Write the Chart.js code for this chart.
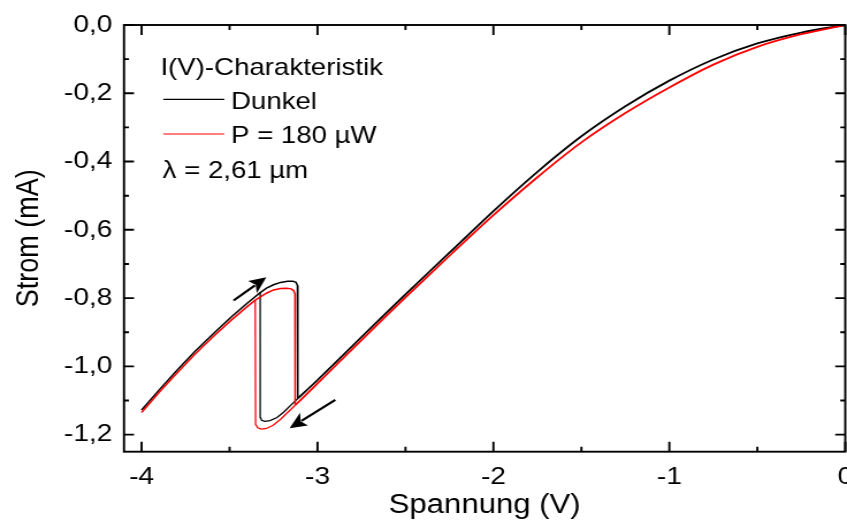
<!DOCTYPE html>
<html>
<head>
<meta charset="utf-8">
<script src="https://cdn.jsdelivr.net/npm/chart.js@4.4.1/dist/chart.umd.min.js"></script>
<style>
  html, body { margin: 0; padding: 0; background: #fff; overflow: hidden; }
</style>
</head>
<body>
<canvas id="plot" width="736" height="525" style="display:block;width:847px;height:525px"></canvas>
<script>
// I(V) sweep, voltage in V, current in mA.
// "Dunkel" = dark measurement, "Licht" = illuminated with P = 180 µW.

// forward sweep from -4 V over the upper loop edge, then the jump down
const dunkelAufV = [-4.0, -3.9, -3.8, -3.7, -3.6, -3.5, -3.4, -3.326, -3.29, -3.25, -3.21, -3.17, -3.14, -3.122, -3.114, -3.112];
const dunkelAufI = [-1.128, -1.069, -1.012, -0.958, -0.908, -0.860, -0.815, -0.784, -0.771, -0.761, -0.754, -0.751, -0.751, -0.754, -0.763, -1.094];
// common branch from the switching point to 0 V
const dunkelHauptV = [-3.112, -3.0, -2.75, -2.5, -2.25, -2.0, -1.75, -1.5, -1.25, -1.0, -0.75, -0.5, -0.25, 0];
const dunkelHauptI = [-1.094, -1.040, -0.914, -0.789, -0.667, -0.545, -0.430, -0.326, -0.238, -0.163, -0.101, -0.054, -0.022, 0];
// backward sweep: lower loop edge and jump back up
const dunkelRueckV = [-3.112, -3.15, -3.19, -3.23, -3.27, -3.30, -3.318, -3.324, -3.326];
const dunkelRueckI = [-1.094, -1.113, -1.133, -1.150, -1.159, -1.161, -1.158, -1.150, -0.784];

const lichtAufV = [-4.0, -3.9, -3.8, -3.7, -3.6, -3.5, -3.4, -3.354, -3.32, -3.288, -3.25, -3.21, -3.174, -3.15, -3.136, -3.128, -3.127];
const lichtAufI = [-1.135, -1.076, -1.020, -0.966, -0.916, -0.869, -0.825, -0.806, -0.795, -0.785, -0.776, -0.772, -0.771, -0.773, -0.778, -0.788, -1.114];
const lichtHauptV = [-3.127, -3.0, -2.75, -2.5, -2.25, -2.0, -1.75, -1.5, -1.25, -1.0, -0.75, -0.5, -0.25, 0];
const lichtHauptI = [-1.114, -1.050, -0.923, -0.798, -0.676, -0.557, -0.446, -0.344, -0.258, -0.183, -0.116, -0.064, -0.027, 0];
const lichtRueckV = [-3.127, -3.17, -3.21, -3.25, -3.29, -3.32, -3.34, -3.352, -3.354];
const lichtRueckI = [-1.114, -1.135, -1.155, -1.172, -1.182, -1.184, -1.180, -1.170, -0.806];

// axis ticks
const xTickValues = [-4, -3, -2, -1, 0];
const xMinorValues = [-3.5, -2.5, -1.5, -0.5];
const yTickValues = [0, -0.2, -0.4, -0.6, -0.8, -1.0, -1.2];
const yMinorValues = [-0.1, -0.3, -0.5, -0.7, -0.9, -1.1];

// sweep direction arrows (tail -> tip, in V / mA)
const sweepArrows = [
  { from: [-3.477, -0.807], to: [-3.291, -0.739] },
  { from: [-2.899, -1.098], to: [-3.159, -1.181] }
];

const legendTitle = 'I(V)-Charakteristik';
const seriesNames = ['Dunkel', 'P = 180 µW'];
const wavelengthNote = 'λ = 2,61 µm';

// the canvas is drawn narrower and widened by CSS
const STRETCH = 847 / 736;
const FONT = "'Liberation Sans', Arial, sans-serif";

const toPoints = (vs, is) => vs.map((v, k) => ({ x: v, y: is[k] }));

function line(vs, is, color, width, tension, order) {
  return {
    data: toPoints(vs, is),
    showLine: true,
    borderColor: color,
    backgroundColor: color,
    borderWidth: width,
    pointRadius: 0,
    pointHoverRadius: 0,
    tension: tension,
    fill: false,
    order: order
  };
}

const BLACK = '#000000';
const RED = '#ff0000';

const datasets = [
  line(dunkelAufV, dunkelAufI, BLACK, 1.5, 0, 2),
  line(dunkelHauptV, dunkelHauptI, BLACK, 1.8, 0.3, 2),
  line(dunkelRueckV, dunkelRueckI, BLACK, 1.3, 0, 2),
  line(lichtAufV, lichtAufI, RED, 1.5, 0, 1),
  line(lichtHauptV, lichtHauptI, RED, 1.8, 0.3, 1),
  line(lichtRueckV, lichtRueckI, RED, 1.3, 0, 1)
];

const frameAndTicks = {
  id: 'frameAndTicks',
  afterDatasetsDraw(chart) {
    const { ctx, chartArea: a, scales: { x, y } } = chart;
    ctx.save();
    ctx.strokeStyle = '#000';
    ctx.lineWidth = 1.9;
    ctx.lineCap = 'butt';
    ctx.strokeRect(a.left, a.top, a.right - a.left, a.bottom - a.top);

    ctx.beginPath();
    const xTick = (v, len) => {
      const px = x.getPixelForValue(v);
      ctx.moveTo(px, a.bottom); ctx.lineTo(px, a.bottom - len);
      ctx.moveTo(px, a.top); ctx.lineTo(px, a.top + len);
    };
    const yTick = (v, len) => {
      const py = y.getPixelForValue(v);
      ctx.moveTo(a.left, py); ctx.lineTo(a.left + len / STRETCH, py);
      ctx.moveTo(a.right, py); ctx.lineTo(a.right - len / STRETCH, py);
    };
    xTickValues.forEach(v => xTick(v, 10));
    xMinorValues.forEach(v => xTick(v, 5));
    yTickValues.forEach(v => yTick(v, 10));
    yMinorValues.forEach(v => yTick(v, 5));
    ctx.stroke();

    // sweep arrows, geometry computed in the widened frame
    ctx.fillStyle = '#000';
    sweepArrows.forEach(ar => {
      const x0 = x.getPixelForValue(ar.from[0]) * STRETCH, y0 = y.getPixelForValue(ar.from[1]);
      const x1 = x.getPixelForValue(ar.to[0]) * STRETCH, y1 = y.getPixelForValue(ar.to[1]);
      const len = Math.hypot(x1 - x0, y1 - y0);
      const ux = (x1 - x0) / len, uy = (y1 - y0) / len;
      const headL = 17, headW = 7.5;
      const bx = x1 - ux * headL, by = y1 - uy * headL;
      const nx = -uy, ny = ux;
      ctx.lineWidth = 2.2;
      ctx.beginPath();
      ctx.moveTo(x0 / STRETCH, y0);
      ctx.lineTo((bx + ux * 3) / STRETCH, by + uy * 3);
      ctx.stroke();
      ctx.beginPath();
      ctx.moveTo(x1 / STRETCH, y1);
      ctx.lineTo((bx + nx * headW) / STRETCH, by + ny * headW);
      ctx.lineTo((bx + ux * 4) / STRETCH, by + uy * 4);
      ctx.lineTo((bx - nx * headW) / STRETCH, by - ny * headW);
      ctx.closePath();
      ctx.fill();
    });
    ctx.restore();
  },
  afterDraw(chart) {
    const { ctx } = chart;
    ctx.save();
    ctx.fillStyle = '#000';
    ctx.font = `24px ${FONT}`;
    ctx.textBaseline = 'alphabetic';
    ctx.textAlign = 'left';
    ctx.fillText(legendTitle, 139.4, 75);
    ctx.fillText(seriesNames[0], 200.7, 109.3);
    ctx.fillText(seriesNames[1], 200.7, 142.7);
    ctx.fillText(wavelengthNote, 141.3, 178.3);

    ctx.lineWidth = 1.2;
    ctx.strokeStyle = BLACK;
    ctx.beginPath(); ctx.moveTo(141.9, 99.3); ctx.lineTo(194.9, 99.3); ctx.stroke();
    ctx.strokeStyle = RED;
    ctx.beginPath(); ctx.moveTo(141.9, 134); ctx.lineTo(194.9, 134); ctx.stroke();
    ctx.restore();
  }
};

Chart.defaults.font.family = FONT;
Chart.defaults.color = '#000';

new Chart(document.getElementById('plot'), {
  type: 'scatter',
  data: { datasets },
  options: {
    responsive: false,
    animation: false,
    devicePixelRatio: 1,
    layout: { padding: { left: 0, right: 1.5, top: 25, bottom: 0 } },
    plugins: { legend: { display: false }, tooltip: { enabled: false } },
    events: [],
    scales: {
      x: {
        type: 'linear',
        min: -4.1,
        max: 0,
        grid: { display: false, drawTicks: false },
        border: { display: false },
        afterBuildTicks: s => { s.ticks = xTickValues.map(v => ({ value: v })); },
        afterFit: s => { s.height = 73.3; s.paddingLeft = 0; s.paddingRight = 0; },
        ticks: {
          padding: 11,
          maxRotation: 0,
          autoSkip: false,
          font: { size: 24.5 },
          color: '#000',
          callback: v => String(v)
        },
        title: {
          display: true,
          text: 'Spannung (V)',
          font: { size: 27 },
          color: '#000',
          padding: { top: 0, bottom: 3 }
        }
      },
      y: {
        type: 'linear',
        min: -1.25,
        max: 0,
        grid: { display: false, drawTicks: false },
        border: { display: false },
        afterBuildTicks: s => { s.ticks = yTickValues.map(v => ({ value: v })); },
        afterFit: s => { s.width = 107.75; s.paddingTop = 0; s.paddingBottom = 0; },
        ticks: {
          padding: 10,
          autoSkip: false,
          font: { size: 24.5 },
          color: '#000',
          callback: v => v.toFixed(1).replace('.', ',')
        },
        title: {
          display: true,
          text: 'Strom (mA)',
          font: { size: 27 },
          color: '#000',
          padding: { top: 9, bottom: 0 }
        }
      }
    }
  },
  plugins: [frameAndTicks]
});
</script>
</body>
</html>
